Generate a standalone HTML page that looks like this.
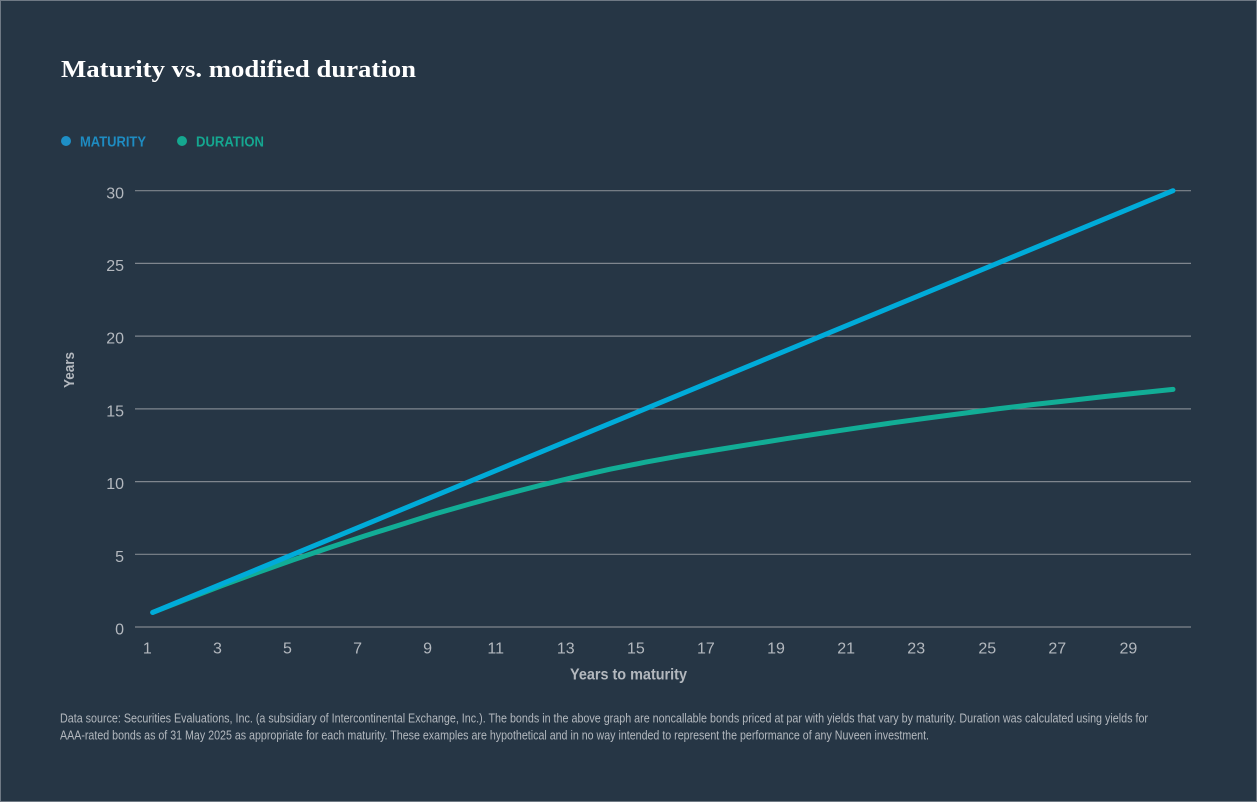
<!DOCTYPE html>
<html><head><meta charset="utf-8"><style>
html,body{margin:0;padding:0;background:#263645;}
svg{display:block;}
</style></head><body>
<svg width="1257" height="802" viewBox="0 0 1257 802" xmlns="http://www.w3.org/2000/svg">
<rect x="0" y="0" width="1257" height="802" fill="#263645"/>
<rect x="0.5" y="0.5" width="1256" height="801" fill="none" stroke="#6f7984" stroke-width="1"/>
<text x="61" y="77" font-family="Liberation Serif, serif" font-weight="bold" font-size="24" fill="#ffffff" textLength="355" lengthAdjust="spacingAndGlyphs">Maturity vs. modified duration</text>
<circle cx="66" cy="141" r="5" fill="#1e8fc6"/>
<text x="80" y="146.5" font-family="Liberation Sans, sans-serif" font-weight="bold" font-size="15" fill="#1e8cc2" textLength="66" lengthAdjust="spacingAndGlyphs">MATURITY</text>
<circle cx="182" cy="141" r="5" fill="#15a890"/>
<text x="196" y="146.5" font-family="Liberation Sans, sans-serif" font-weight="bold" font-size="15" fill="#15a690" textLength="68" lengthAdjust="spacingAndGlyphs">DURATION</text>
<g stroke="#7f868e" stroke-width="1.2">
<line x1="135" y1="190.7" x2="1191" y2="190.7"/>
<line x1="135" y1="263.4" x2="1191" y2="263.4"/>
<line x1="135" y1="336.1" x2="1191" y2="336.1"/>
<line x1="135" y1="408.9" x2="1191" y2="408.9"/>
<line x1="135" y1="481.6" x2="1191" y2="481.6"/>
<line x1="135" y1="554.3" x2="1191" y2="554.3"/>
<line x1="135" y1="627" x2="1191" y2="627"/>
</g>
<g font-family="Liberation Sans, sans-serif" font-size="16" fill="#b3b8be" text-anchor="end">
<text x="124" y="198.3">30</text>
<text x="124" y="271">25</text>
<text x="124" y="343.7">20</text>
<text x="124" y="416.5">15</text>
<text x="124" y="489.2">10</text>
<text x="124" y="561.9">5</text>
<text x="124" y="634.6">0</text>
</g>
<g font-family="Liberation Sans, sans-serif" font-size="16" fill="#b3b8be" text-anchor="middle">
<text x="147.3" y="653.3">1</text>
<text x="217.4" y="653.3">3</text>
<text x="287.5" y="653.3">5</text>
<text x="357.6" y="653.3">7</text>
<text x="427.6" y="653.3">9</text>
<text x="495.7" y="653.3">11</text>
<text x="565.8" y="653.3">13</text>
<text x="635.9" y="653.3">15</text>
<text x="705.9" y="653.3">17</text>
<text x="776" y="653.3">19</text>
<text x="846.1" y="653.3">21</text>
<text x="916.2" y="653.3">23</text>
<text x="987.3" y="653.3">25</text>
<text x="1057.3" y="653.3">27</text>
<text x="1128.4" y="653.3">29</text>
</g>
<text x="570" y="679.5" font-family="Liberation Sans, sans-serif" font-weight="bold" font-size="16" fill="#b3b8be" textLength="117" lengthAdjust="spacingAndGlyphs">Years to maturity</text>
<text transform="translate(74,388) rotate(-90)" x="0" y="0" font-family="Liberation Sans, sans-serif" font-weight="bold" font-size="15" fill="#b3b8be" textLength="36" lengthAdjust="spacingAndGlyphs">Years</text>
<polyline fill="none" stroke="#12ad96" stroke-width="5" stroke-linecap="round" stroke-linejoin="round" points="152.7,612.46 187.88,598.64 223.07,585.12 258.25,572.32 293.43,559.81 328.62,547.89 363.8,536.25 398.98,525.2 434.16,514.15 469.35,504.11 504.53,494.51 539.71,485.5 574.9,477.06 610.08,469.21 645.26,462.23 680.45,455.83 715.63,450.01 750.81,444.34 786,438.67 821.18,433.29 856.36,428.05 891.55,422.96 926.73,418.16 961.91,413.51 997.1,408.86 1032.28,404.64 1067.46,400.71 1102.65,396.78 1137.83,393 1173,389.37"/>
<line x1="152.7" y1="612.46" x2="1173" y2="190.7" stroke="#00abd9" stroke-width="5" stroke-linecap="round"/>
<g font-family="Liberation Sans, sans-serif" font-size="13" fill="#b3b8be">
<text x="60" y="722.7" textLength="1088" lengthAdjust="spacingAndGlyphs">Data source: Securities Evaluations, Inc. (a subsidiary of Intercontinental Exchange, Inc.). The bonds in the above graph are noncallable bonds priced at par with yields that vary by maturity. Duration was calculated using yields for</text>
<text x="60" y="739.4" textLength="869" lengthAdjust="spacingAndGlyphs">AAA-rated bonds as of 31 May 2025 as appropriate for each maturity. These examples are hypothetical and in no way intended to represent the performance of any Nuveen investment.</text>
</g>
</svg>
</body></html>
